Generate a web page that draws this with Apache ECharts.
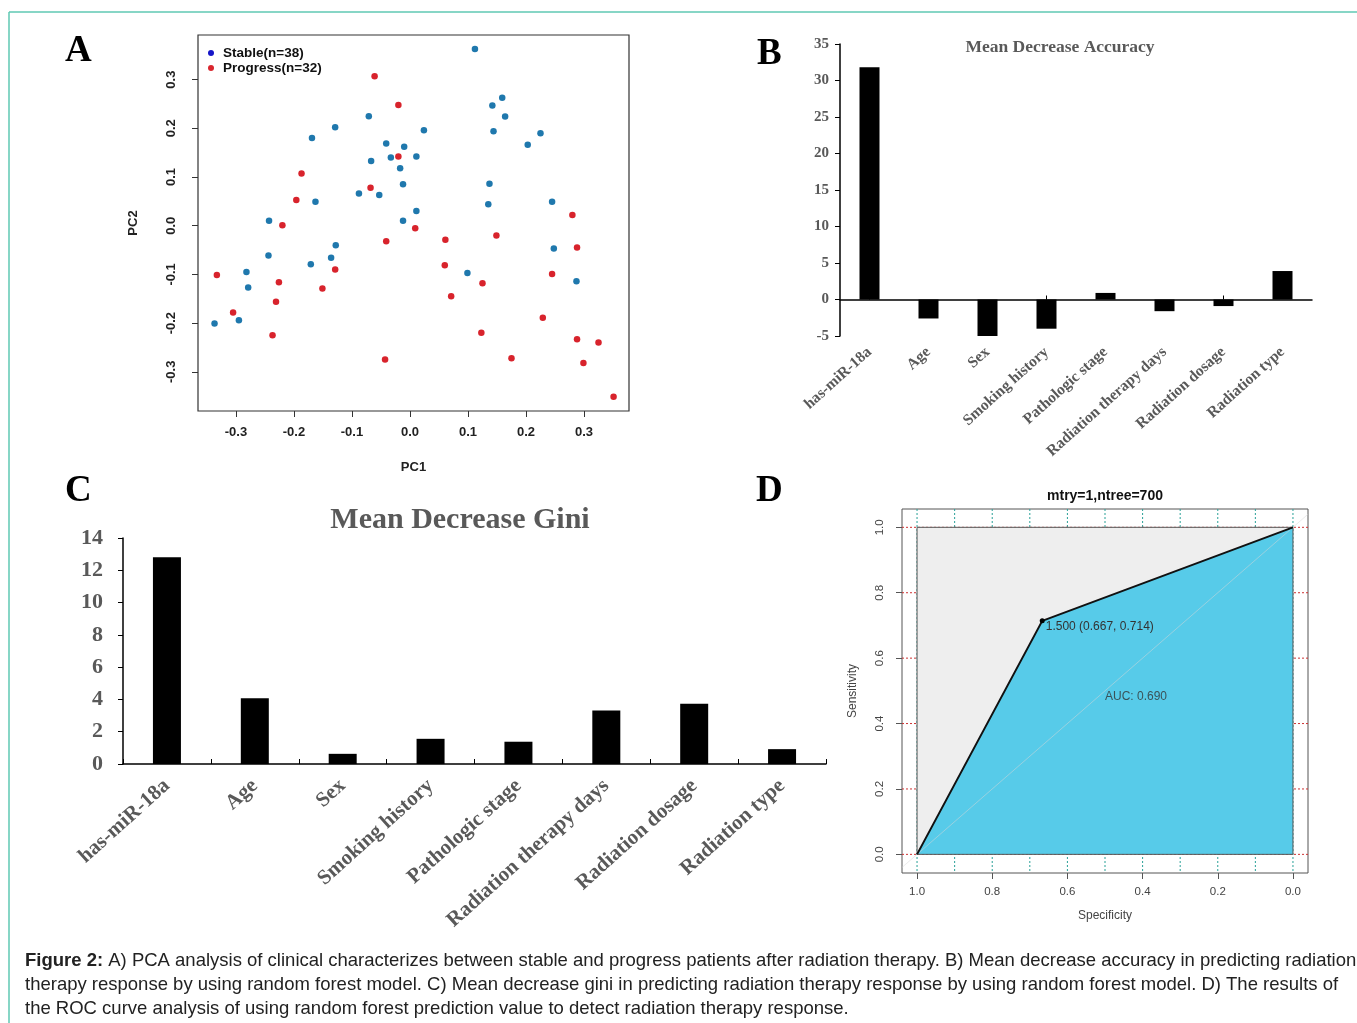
<!DOCTYPE html>
<html>
<head>
<meta charset="utf-8">
<script src="https://cdn.jsdelivr.net/npm/echarts@6/dist/echarts.min.js"></script>
<style>
  html, body { margin: 0; padding: 0; background: #fff; }
  #fig { width: 1357px; height: 1023px; }
</style>
</head>
<body>
<div id="fig"></div>
<script>
// ---- Panel A: PCA scores (PC1, PC2) ----
const stablePts = [
  [0.112, 0.363], [0.159, 0.263], [0.142, 0.247], [0.164, 0.224], [-0.071, 0.225],
  [-0.129, 0.202], [0.024, 0.196], [0.144, 0.194], [0.225, 0.190], [-0.169, 0.180],
  [-0.041, 0.169], [-0.010, 0.162], [0.203, 0.166], [-0.067, 0.133], [-0.033, 0.140],
  [0.011, 0.142], [-0.017, 0.118], [-0.012, 0.085], [0.137, 0.086], [-0.088, 0.066],
  [-0.053, 0.063], [-0.163, 0.049], [0.135, 0.044], [0.245, 0.049], [0.011, 0.030],
  [-0.243, 0.010], [-0.012, 0.010], [-0.128, -0.040], [-0.136, -0.066], [-0.244, -0.061],
  [-0.171, -0.079], [0.248, -0.047], [-0.282, -0.095], [-0.279, -0.127], [0.099, -0.097],
  [0.287, -0.114], [-0.295, -0.194], [-0.337, -0.201]
];
const progressPts = [
  [-0.061, 0.307], [-0.020, 0.248], [-0.020, 0.142], [-0.187, 0.107], [-0.068, 0.078],
  [-0.196, 0.053], [-0.220, 0.001], [0.009, -0.005], [0.280, 0.022], [-0.041, -0.032],
  [0.061, -0.029], [0.149, -0.020], [0.288, -0.045], [0.060, -0.081], [-0.129, -0.090],
  [-0.333, -0.101], [0.245, -0.099], [-0.226, -0.116], [0.125, -0.118], [-0.151, -0.129],
  [0.071, -0.145], [-0.231, -0.156], [-0.305, -0.178], [0.229, -0.189], [-0.237, -0.225],
  [0.123, -0.220], [0.288, -0.233], [0.325, -0.240], [-0.043, -0.275], [0.175, -0.272],
  [0.299, -0.282], [0.351, -0.351]
];
const pcaTicks = [-0.3, -0.2, -0.1, 0.0, 0.1, 0.2, 0.3];
const seriesNames = ['Stable(n=38)', 'Progress(n=32)'];

// ---- Panels B and C: random forest importance ----
const features = ['has-miR-18a', 'Age', 'Sex', 'Smoking history', 'Pathologic stage',
  'Radiation therapy days', 'Radiation dosage', 'Radiation type'];
const meanDecreaseAccuracy = [31.8, -2.6, -5.0, -4.0, 0.9, -1.6, -0.9, 3.9];
const meanDecreaseGini = [12.8, 4.07, 0.63, 1.56, 1.38, 3.31, 3.73, 0.92];

// ---- Panel D: ROC curve ----
const rocSpecificity = [1.0, 0.667, 0.0];
const rocSensitivity = [0.0, 0.714, 1.0];
const bestThreshold = 1.500;
const aucValue = 0.690;
const rocTicks = [0.0, 0.2, 0.4, 0.6, 0.8, 1.0];
const specGrid = [0.0, 0.1, 0.2, 0.3, 0.4, 0.5, 0.6, 0.7, 0.8, 0.9, 1.0];
const sensGrid = [0.0, 0.2, 0.4, 0.6, 0.8, 1.0];

const sans = '"Liberation Sans", Arial, sans-serif';
const serif = '"Liberation Serif", "Times New Roman", serif';

const chart = echarts.init(document.getElementById('fig'), null, { renderer: 'canvas' });

const rocPts = rocSpecificity.map((s, i) => [s, rocSensitivity[i]]);
const bestIdx = 1;

function fix1(v) { return (Math.abs(v) < 1e-9 ? 0 : v).toFixed(1); }

// polygon through the cartesian coords of the given points
function polySeries(pts, style, z) {
  return {
    type: 'custom', xAxisIndex: 4, yAxisIndex: 3, z: z, silent: true,
    data: [[pts[0][0], pts[0][1]]],
    renderItem: function (params, api) {
      return {
        type: 'polygon',
        shape: { points: pts.map(p => api.coord(p)) },
        style: style
      };
    }
  };
}

// dotted grid lines spanning the whole plot box
function gridLineSeries(values, vertical, color, z) {
  return {
    type: 'custom', xAxisIndex: 4, yAxisIndex: 3, z: z, silent: true,
    data: values.map(v => vertical ? [v, 0.5] : [0.5, v]),
    renderItem: function (params, api) {
      const cs = params.coordSys;
      const p = api.coord([api.value(0), api.value(1)]);
      const shape = vertical
        ? { x1: p[0], y1: cs.y, x2: p[0], y2: cs.y + cs.height }
        : { x1: cs.x, y1: p[1], x2: cs.x + cs.width, y2: p[1] };
      return { type: 'line', shape: shape, style: { stroke: color, lineWidth: 1, lineDash: [2, 2] } };
    }
  };
}

const maxAucSquare = [[1, 0], [1, 1], [0, 1], [0, 0]];
const aucPolygon = rocPts.concat([[0, 0]]);

const option = {
  backgroundColor: '#fff',
  animation: false,
  legend: {
    left: 203, top: 41, orient: 'vertical', itemGap: 1,
    icon: 'circle', itemWidth: 6, itemHeight: 6,
    textStyle: { fontFamily: sans, fontWeight: 'bold', fontSize: 13.5, color: '#111', padding: [0, 0, 0, 4] },
    data: [
      { name: seriesNames[0], itemStyle: { color: '#1515c8' } },
      { name: seriesNames[1], itemStyle: { color: '#d9262e' } }
    ]
  },
  grid: [
    { left: 198, top: 35, width: 431, height: 376, show: true, borderColor: '#333', borderWidth: 1.2, backgroundColor: 'transparent' },
    { left: 840, top: 44, width: 472, height: 292 },
    { left: 123, top: 538, width: 703, height: 226 },
    { left: 902, top: 509, width: 406, height: 364, show: true, borderColor: '#555', borderWidth: 1, backgroundColor: 'transparent' }
  ],
  xAxis: [
    {
      gridIndex: 0, type: 'value', min: -0.3655, max: 0.3776,
      name: 'PC1', nameLocation: 'middle', nameGap: 50,
      nameTextStyle: { fontFamily: sans, fontWeight: 'bold', fontSize: 13, color: '#222' },
      axisLine: { show: false, onZero: false }, splitLine: { show: false },
      axisTick: { show: true, customValues: pcaTicks, length: 6, lineStyle: { color: '#333' } },
      axisLabel: { customValues: pcaTicks, formatter: fix1, margin: 15, fontFamily: sans, fontWeight: 'bold', fontSize: 13, color: '#222' }
    },
    {
      gridIndex: 1, type: 'category', data: features, position: 'bottom',
      axisLine: { show: false, onZero: false }, axisTick: { show: false },
      axisLabel: { interval: 0, rotate: 42, margin: 14, fontFamily: serif, fontWeight: 'bold', fontSize: 15.5, color: '#595959' }
    },
    {
      gridIndex: 1, type: 'category', data: features, position: 'bottom',
      axisLine: { show: true, onZero: true, lineStyle: { color: '#000', width: 1.5 } },
      axisTick: { show: true, inside: true, alignWithLabel: true, length: 4, lineStyle: { color: '#000' } },
      axisLabel: { show: false }
    },
    {
      gridIndex: 2, type: 'category', data: features,
      axisLine: { lineStyle: { color: '#000', width: 1.5 } },
      axisTick: { show: true, inside: true, length: 5, lineStyle: { color: '#000' } },
      axisLabel: { interval: 0, rotate: 42, margin: 19, fontFamily: serif, fontWeight: 'bold', fontSize: 21, color: '#595959' }
    },
    {
      gridIndex: 3, type: 'value', inverse: true, min: -0.04, max: 1.04,
      name: 'Specificity', nameLocation: 'middle', nameGap: 37,
      nameTextStyle: { fontFamily: sans, fontSize: 12, color: '#444' },
      axisLine: { show: false, onZero: false }, splitLine: { show: false },
      axisTick: { show: true, customValues: rocTicks, length: 6, lineStyle: { color: '#555' } },
      axisLabel: { customValues: rocTicks, formatter: fix1, margin: 13, fontFamily: sans, fontSize: 11.5, color: '#444' }
    }
  ],
  yAxis: [
    {
      gridIndex: 0, type: 'value', min: -0.3805, max: 0.3916,
      name: 'PC2', nameLocation: 'middle', nameGap: 58,
      nameTextStyle: { fontFamily: sans, fontWeight: 'bold', fontSize: 13, color: '#222' },
      axisLine: { show: false, onZero: false }, splitLine: { show: false },
      axisTick: { show: true, customValues: pcaTicks, length: 6, lineStyle: { color: '#333' } },
      axisLabel: { customValues: pcaTicks, formatter: fix1, rotate: 90, margin: 20, fontFamily: sans, fontWeight: 'bold', fontSize: 13, color: '#222' }
    },
    {
      gridIndex: 1, type: 'value', min: -5, max: 35, interval: 5,
      axisLine: { show: true, onZero: false, lineStyle: { color: '#000', width: 1.5 } },
      axisTick: { show: true, length: 5, lineStyle: { color: '#000' } },
      splitLine: { show: false },
      axisLabel: { margin: 11, fontFamily: serif, fontWeight: 'bold', fontSize: 15, color: '#595959' }
    },
    {
      gridIndex: 2, type: 'value', min: 0, max: 14, interval: 2,
      axisLine: { show: true, lineStyle: { color: '#000', width: 1.5 } },
      axisTick: { show: true, length: 5, lineStyle: { color: '#000' } },
      splitLine: { show: false },
      axisLabel: { margin: 20, fontFamily: serif, fontWeight: 'bold', fontSize: 22, color: '#595959' }
    },
    {
      gridIndex: 3, type: 'value', min: -0.057, max: 1.056,
      name: 'Sensitivity', nameLocation: 'middle', nameGap: 43,
      nameTextStyle: { fontFamily: sans, fontSize: 12, color: '#444' },
      axisLine: { show: false, onZero: false }, splitLine: { show: false },
      axisTick: { show: true, customValues: rocTicks, length: 6, lineStyle: { color: '#555' } },
      axisLabel: { customValues: rocTicks, formatter: fix1, rotate: 90, margin: 16, fontFamily: sans, fontSize: 11.5, color: '#444' }
    }
  ],
  series: [
    // A
    { name: seriesNames[0], type: 'scatter', xAxisIndex: 0, yAxisIndex: 0, data: stablePts, symbolSize: 6.5, itemStyle: { color: '#1f78ad', opacity: 1 } },
    { name: seriesNames[1], type: 'scatter', xAxisIndex: 0, yAxisIndex: 0, data: progressPts, symbolSize: 6.5, itemStyle: { color: '#d8232c', opacity: 1 } },
    // B
    { type: 'bar', xAxisIndex: 1, yAxisIndex: 1, data: meanDecreaseAccuracy, barWidth: 20, itemStyle: { color: '#000' } },
    // C
    { type: 'bar', xAxisIndex: 3, yAxisIndex: 2, data: meanDecreaseGini, barWidth: 28, itemStyle: { color: '#000' } },
    // D
    gridLineSeries(specGrid, true, '#2aa198', 1),
    gridLineSeries(sensGrid, false, '#cc3333', 1),
    polySeries(maxAucSquare, { fill: '#eeeeee' }, 2),
    polySeries(aucPolygon, { fill: '#57cbe9' }, 3),
    polySeries(maxAucSquare, { fill: 'none', stroke: '#555', lineWidth: 1 }, 4),
    {
      type: 'line', xAxisIndex: 4, yAxisIndex: 3, z: 5, silent: true,
      data: [[1.04, -0.04], [-0.04, 1.04]], symbol: 'none',
      lineStyle: { color: '#d8d8d8', width: 1, opacity: 0.5 }
    },
    {
      type: 'line', xAxisIndex: 4, yAxisIndex: 3, z: 6, silent: true,
      data: rocPts, symbol: 'none', lineStyle: { color: '#111', width: 2 }
    },
    {
      type: 'scatter', xAxisIndex: 4, yAxisIndex: 3, z: 7, silent: true,
      data: [rocPts[bestIdx]], symbolSize: 5, itemStyle: { color: '#000', opacity: 1 },
      label: {
        show: true, position: [6, 2], align: 'left', verticalAlign: 'top',
        formatter: () => bestThreshold.toFixed(3) + ' (' + rocSpecificity[bestIdx].toFixed(3) + ', ' + rocSensitivity[bestIdx].toFixed(3) + ')',
        fontFamily: sans, fontSize: 12, color: '#333'
      }
    },
    {
      type: 'scatter', xAxisIndex: 4, yAxisIndex: 3, z: 7, silent: true,
      data: [[0.5, 0.5]], symbolSize: 0,
      label: {
        show: true, position: [0, 0], align: 'left', verticalAlign: 'top',
        formatter: () => 'AUC: ' + aucValue.toFixed(3),
        fontFamily: sans, fontSize: 12, color: '#333'
      }
    }
  ],
  graphic: [
    // frame
    { type: 'line', shape: { x1: 9, y1: 12, x2: 1357, y2: 12 }, style: { stroke: '#5fc9b3', lineWidth: 1.5 } },
    { type: 'line', shape: { x1: 9, y1: 12, x2: 9, y2: 1023 }, style: { stroke: '#5fc9b3', lineWidth: 1.5 } },
    // panel letters
    { type: 'text', left: 65, top: 33, style: { text: 'A', font: 'bold 37px ' + serif, fill: '#000' } },
    { type: 'text', left: 757, top: 36, style: { text: 'B', font: 'bold 37px ' + serif, fill: '#000' } },
    { type: 'text', left: 65, top: 473, style: { text: 'C', font: 'bold 37px ' + serif, fill: '#000' } },
    { type: 'text', left: 756, top: 473, style: { text: 'D', font: 'bold 37px ' + serif, fill: '#000' } },
    // titles
    { type: 'text', x: 1060, y: 47, style: { text: 'Mean Decrease Accuracy', font: 'bold 17.5px ' + serif, fill: '#595959', align: 'center', verticalAlign: 'middle' } },
    { type: 'text', x: 460, y: 520, style: { text: 'Mean Decrease Gini', font: 'bold 30px ' + serif, fill: '#595959', align: 'center', verticalAlign: 'middle' } },
    { type: 'text', x: 1105, y: 496, style: { text: 'mtry=1,ntree=700', font: 'bold 14px ' + sans, fill: '#111', align: 'center', verticalAlign: 'middle' } },
    // caption
    {
      type: 'text', x: 25, y: 961,
      style: {
        text: '{b|Figure 2:} A) PCA analysis of clinical characterizes between stable and progress patients after radiation therapy. B) Mean decrease accuracy in predicting radiation',
        verticalAlign: 'middle', fill: '#222', font: '18.5px ' + sans,
        rich: { b: { fontWeight: 'bold', fontFamily: sans, fontSize: 18.5, fill: '#222' } }
      }
    },
    { type: 'text', x: 25, y: 985, style: { text: 'therapy response by using random forest model. C) Mean decrease gini in predicting radiation therapy response by using random forest model. D) The results of', verticalAlign: 'middle', fill: '#222', font: '18.5px ' + sans } },
    { type: 'text', x: 25, y: 1009, style: { text: 'the ROC curve analysis of using random forest prediction value to detect radiation therapy response.', verticalAlign: 'middle', fill: '#222', font: '18.5px ' + sans } }
  ]
};

chart.setOption(option);
</script>
</body>
</html>
